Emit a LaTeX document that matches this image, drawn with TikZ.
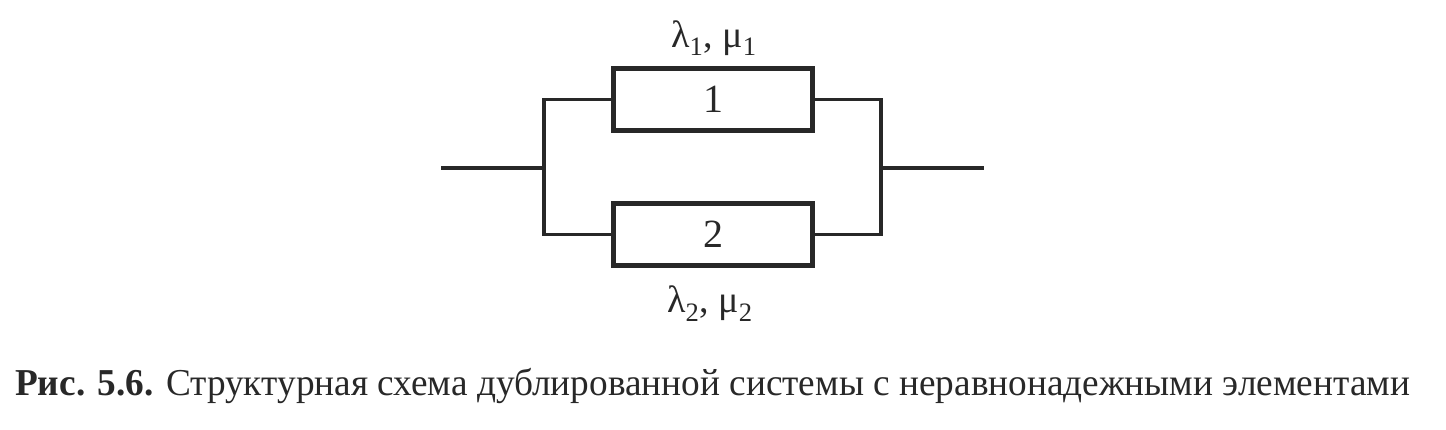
\documentclass[tikz,border=0pt]{standalone}
\usepackage{fontspec}
\setmainfont{Liberation Serif}
\usepackage{graphicx}
\definecolor{ink}{RGB}{40,40,40}
\begin{document}
\begin{tikzpicture}[x=1pt,y=-1pt,
  blockbox/.style={draw=ink,line width=5pt,minimum width=199pt,minimum height=62pt,inner sep=0pt,
    font=\fontsize{40}{40}\selectfont,text=ink},
  wire/.style={draw=ink,line width=3.5pt},
  lbl/.style={inner sep=0pt,anchor=base,font=\fontsize{38}{38}\selectfont,text=ink}]
\useasboundingbox (0,0) rectangle (1446,429);
\node[blockbox] (b1) at (713,99.5) {1};
\node[blockbox] (b2) at (713,234.5) {2};
\coordinate (in) at (441,168);
\coordinate (jl) at (544,168);
\coordinate (jr) at (881,168);
\coordinate (out) at (984,168);
\draw[wire] (in) -- (jl);
\draw[wire] (jr) -- (out);
\draw[wire] (b1.west) -| (jl) |- (b2.west);
\draw[wire] (b1.east) -| (jr) |- (b2.east);
\node[lbl] (l1) at (714,47) {λ\textsubscript{1}, μ\textsubscript{1}};
\node[lbl] (l2) at (710,312) {λ\textsubscript{2}, μ\textsubscript{2}};
\node[inner sep=0pt,anchor=base west,text=ink,font=\fontsize{38}{38}\selectfont] (cap) at (15,395)
  {\resizebox{1395pt}{\height}{\textbf{Рис. 5.6.} Структурная схема дублированной системы с неравнонадежными элементами}};
\end{tikzpicture}
\end{document}
